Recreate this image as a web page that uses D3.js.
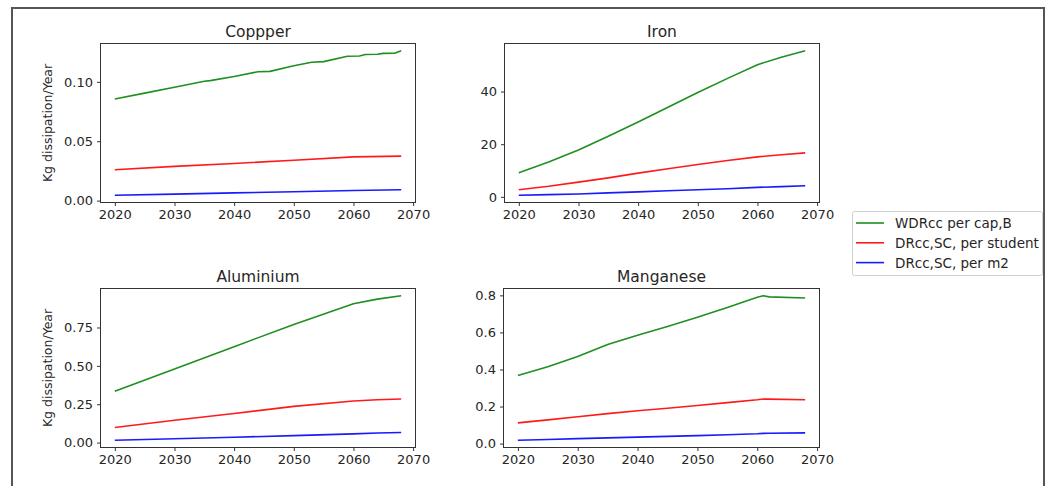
<!DOCTYPE html>
<html>
<head>
<meta charset="utf-8">
<script src="https://cdn.jsdelivr.net/npm/d3@7"></script>
<style>
  html, body { margin: 0; padding: 0; background: #fff; }
  svg text { font-family: "DejaVu Sans", sans-serif; fill: #262626; }
</style>
</head>
<body>
<svg id="chart" width="1051" height="486"></svg>
<script>
// ---- data: kg dissipation per year, by metal and indicator ----
const seriesNames = ["WDRcc per cap,B", "DRcc,SC, per student", "DRcc,SC, per m2"];
const seriesColors = ["#1f8f1f", "#ff1a1a", "#1a1aff"];

const copperYears = [2020, 2025, 2030, 2035, 2036, 2040, 2044, 2046, 2050, 2053, 2055, 2059, 2061, 2062, 2064, 2065, 2067, 2068];
const copperWDR   = [0.0855, 0.0905, 0.0955, 0.1005, 0.1010, 0.1045, 0.1085, 0.1088, 0.1135, 0.1165, 0.1170, 0.1215, 0.1218, 0.1230, 0.1232, 0.1240, 0.1242, 0.1262];
const copperStuYears = [2020, 2030, 2040, 2050, 2060, 2068];
const copperStudent = [0.0260, 0.0288, 0.0313, 0.0340, 0.0368, 0.0375];
const copperM2      = [0.0045, 0.0055, 0.0065, 0.0075, 0.0085, 0.0091];

const ironYears   = [2020, 2025, 2030, 2035, 2040, 2045, 2050, 2055, 2060, 2064, 2068];
const ironWDR     = [9.2, 13.2, 17.8, 23.0, 28.4, 34.0, 39.6, 45.0, 50.2, 53.0, 55.5];
const ironStudent = [2.7, 4.0, 5.6, 7.2, 9.0, 10.7, 12.3, 13.8, 15.2, 16.0, 16.7];
const ironM2      = [0.6, 0.85, 1.1, 1.5, 1.9, 2.3, 2.7, 3.1, 3.6, 3.9, 4.2];

const aluYears    = [2020, 2030, 2040, 2050, 2060, 2064, 2068];
const aluWDR      = [0.334, 0.480, 0.625, 0.770, 0.905, 0.935, 0.957];
const aluStudent  = [0.098, 0.145, 0.189, 0.236, 0.271, 0.279, 0.284];
const aluM2       = [0.015, 0.025, 0.035, 0.045, 0.057, 0.062, 0.066];

const mnYears     = [2020, 2025, 2030, 2035, 2040, 2045, 2050, 2055, 2060, 2061, 2062, 2068];
const mnWDR       = [0.367, 0.415, 0.470, 0.535, 0.585, 0.632, 0.682, 0.735, 0.790, 0.798, 0.792, 0.786];
const mnStudent   = [0.112, 0.128, 0.145, 0.162, 0.177, 0.191, 0.206, 0.221, 0.237, 0.241, 0.240, 0.237];
const mnM2        = [0.018, 0.022, 0.027, 0.031, 0.035, 0.039, 0.043, 0.048, 0.053, 0.055, 0.056, 0.058];

const xTicks = [2020, 2030, 2040, 2050, 2060, 2070];
const copperTicks = [0, 0.05, 0.10];
const ironTicks   = [0, 20, 40];
const aluTicks    = [0, 0.25, 0.50, 0.75];
const mnTicks     = [0, 0.2, 0.4, 0.6, 0.8];

// panel layout: [x0, y0, x1, y1] of the plotting box
const panels = [
  { title: "Coppper",   box: [100.5, 43.5, 415.5, 202.5], ylabel: true,
    lines: [[copperYears, copperWDR], [copperStuYears, copperStudent], [copperStuYears, copperM2]],
    ticks: copperTicks, fmt: d3.format(".2f") },
  { title: "Iron",      box: [504.5, 43.5, 819.5, 202.5], ylabel: false,
    lines: [[ironYears, ironWDR], [ironYears, ironStudent], [ironYears, ironM2]],
    ticks: ironTicks, fmt: d3.format("d") },
  { title: "Aluminium", box: [100.5, 288.5, 415.5, 447.5], ylabel: true,
    lines: [[aluYears, aluWDR], [aluYears, aluStudent], [aluYears, aluM2]],
    ticks: aluTicks, fmt: d3.format(".2f") },
  { title: "Manganese", box: [503.5, 288.5, 819.5, 447.5], ylabel: false,
    lines: [[mnYears, mnWDR], [mnYears, mnStudent], [mnYears, mnM2]],
    ticks: mnTicks, fmt: d3.format(".1f") }
];

const svg = d3.select("#chart");

// outer frame around the figure
svg.append("rect")
  .attr("x", 12).attr("y", 8).attr("width", 1032).attr("height", 500)
  .attr("fill", "none").attr("stroke", "#555").attr("stroke-width", 2);

// padded extent, 5% of the data range on each side
function padded(values) {
  const [lo, hi] = d3.extent(values);
  const m = (hi - lo) * 0.05;
  return [lo - m, hi + m];
}

panels.forEach(p => {
  const [x0, y0, x1, y1] = p.box;
  const allYears = p.lines.flatMap(l => l[0]);
  const allVals = p.lines.flatMap(l => l[1]);
  const x = d3.scaleLinear().domain(padded(allYears)).range([x0, x1]);
  const y = d3.scaleLinear().domain(padded(allVals)).range([y1, y0]);

  const g = svg.append("g");

  // series lines
  const line = d3.line().x(d => x(d[0])).y(d => y(d[1]));
  p.lines.forEach((l, i) => {
    const pts = l[0].map((yr, k) => [yr, l[1][k]]);
    g.append("path").datum(pts)
      .attr("d", line)
      .attr("fill", "none")
      .attr("stroke", seriesColors[i])
      .attr("stroke-width", 1.6)
      .attr("stroke-linejoin", "round");
  });

  // plotting box
  g.append("rect")
    .attr("x", x0).attr("y", y0).attr("width", x1 - x0).attr("height", y1 - y0)
    .attr("fill", "none").attr("stroke", "#333").attr("stroke-width", 1);

  // x axis
  const xa = g.append("g").attr("transform", `translate(0,${y1})`)
    .call(d3.axisBottom(x).tickValues(xTicks).tickFormat(d3.format("d")).tickSize(3.5).tickPadding(4));
  // y axis
  const ya = g.append("g").attr("transform", `translate(${x0},0)`)
    .call(d3.axisLeft(y).tickValues(p.ticks).tickFormat(p.fmt).tickSize(3.5).tickPadding(4));
  [xa, ya].forEach(a => {
    a.select(".domain").remove();
    a.selectAll(".tick line").attr("stroke", "#333");
    a.selectAll(".tick text").attr("font-size", 13).style("font-family", "DejaVu Sans, sans-serif").attr("fill", "#262626");
  });

  // title
  g.append("text")
    .attr("x", (x0 + x1) / 2).attr("y", y0 - 7)
    .attr("text-anchor", "middle").attr("font-size", 15.5)
    .text(p.title);

  if (p.ylabel) {
    g.append("text")
      .attr("transform", `translate(52,${(y0 + y1) / 2}) rotate(-90)`)
      .attr("text-anchor", "middle").attr("font-size", 12.5)
      .text("Kg dissipation/Year");
  }
});

// legend
const lg = svg.append("g");
lg.append("rect")
  .attr("x", 852.5).attr("y", 211.5).attr("width", 190).attr("height", 64)
  .attr("rx", 2).attr("fill", "#fff").attr("stroke", "#d0d0d0");
seriesNames.forEach((name, i) => {
  const cy = 223 + i * 19.8;
  lg.append("line")
    .attr("x1", 856).attr("x2", 884).attr("y1", cy).attr("y2", cy)
    .attr("stroke", seriesColors[i]).attr("stroke-width", 1.6);
  lg.append("text")
    .attr("x", 895).attr("y", cy + 5).attr("font-size", 13.5)
    .text(name);
});
</script>
</body>
</html>
